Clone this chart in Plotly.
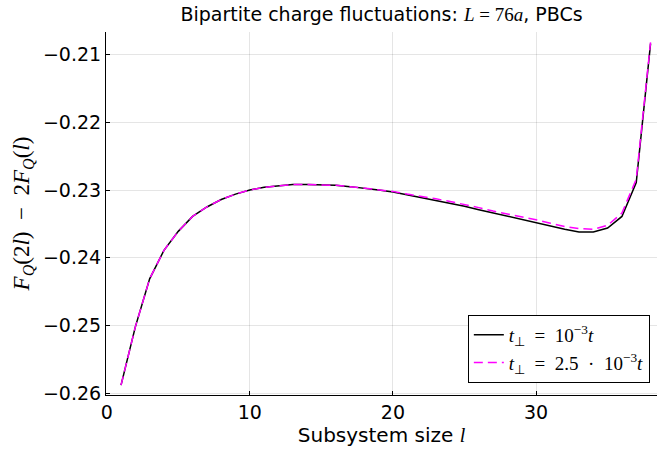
import plotly.graph_objects as go

l_vals = list(range(1, 39))
fq_t1 = [-0.2588, -0.2502, -0.2431, -0.2389, -0.2361, -0.2339, -0.2325, -0.2314,
         -0.2306, -0.2300, -0.2296, -0.2294, -0.2292, -0.2292, -0.2292, -0.2293,
         -0.2295, -0.2297, -0.2300, -0.2303, -0.2307, -0.2311, -0.2315, -0.2320,
         -0.2324, -0.2329, -0.2334, -0.2339, -0.2344, -0.2348, -0.2353, -0.2358,
         -0.2362, -0.2362, -0.2356, -0.2339, -0.2289, -0.2084]
fq_t25 = [-0.2588, -0.2502, -0.2431, -0.2389, -0.2361, -0.2339, -0.2325, -0.2314,
          -0.2306, -0.2300, -0.2296, -0.2294, -0.2292, -0.2292, -0.2292, -0.2293,
          -0.2295, -0.2297, -0.2300, -0.2302, -0.2306, -0.2309, -0.2313, -0.2317,
          -0.2321, -0.2326, -0.2331, -0.2335, -0.2340, -0.2344, -0.2349, -0.2354,
          -0.2357, -0.2358, -0.2352, -0.2334, -0.2284, -0.2082]
x_ticks = [0, 10, 20, 30]
y_ticks = [-0.26, -0.25, -0.24, -0.23, -0.22, -0.21]
y_ticklabels = ["\u22120.26", "\u22120.25", "\u22120.24", "\u22120.23", "\u22120.22", "\u22120.21"]

SERIF = "Liberation Serif"
def m(s):
    return f'<span style="font-family:{SERIF}">{s}</span>'

SP = "\u2002"  # en space for math-like spacing
fig = go.Figure()
fig.add_trace(go.Scatter(
    x=l_vals, y=fq_t1, mode="lines",
    line=dict(color="black", width=1.5),
    name=m(f"<i>t</i><sub>\u22a5</sub>{SP}={SP}10<sup>\u22123</sup><i>t</i>"),
))
fig.add_trace(go.Scatter(
    x=l_vals, y=fq_t25, mode="lines",
    line=dict(color="#ff00ff", width=1.5, dash="9px,5px"),
    name=m(f"<i>t</i><sub>\u22a5</sub>{SP}={SP}2.5{SP}\u00b7{SP}10<sup>\u22123</sup><i>t</i>"),
))

fig.update_layout(
    width=661, height=453,
    margin=dict(l=106, r=4, t=32, b=58),
    paper_bgcolor="white", plot_bgcolor="white",
    font=dict(family="DejaVu Sans", size=19, color="black"),
    title=dict(
        text="Bipartite charge fluctuations: " + m("<i>L</i> = 76<i>a</i>") + ", PBCs",
        x=(106 + 657) / 2 / 661, xanchor="center", y=1 - 14 / 453, yanchor="middle",
        font=dict(size=19),
    ),
    showlegend=True,
    legend=dict(
        x=0.987, y=0.033, xanchor="right", yanchor="bottom",
        bordercolor="black", borderwidth=1, bgcolor="white",
        font=dict(size=19, family=SERIF),
        tracegroupgap=0, itemwidth=30,
    ),
    xaxis=dict(
        range=[-0.05, 38.45],
        tickvals=x_ticks, ticktext=[str(v) for v in x_ticks],
        tickfont=dict(size=19),
        showgrid=True, gridcolor="rgba(0,0,0,0.1)", gridwidth=1,
        zeroline=False,
        showline=True, linecolor="black", linewidth=1,
        ticks="inside", ticklen=4, tickcolor="black",
        title=dict(text="Subsystem size " + m("<i>l</i>"), font=dict(size=20), standoff=3),
        automargin=False,
    ),
    yaxis=dict(
        range=[-0.26025, -0.20668],
        tickvals=y_ticks, ticktext=y_ticklabels,
        tickfont=dict(size=19),
        showgrid=True, gridcolor="rgba(0,0,0,0.1)", gridwidth=1,
        zeroline=False,
        showline=True, linecolor="black", linewidth=1,
        ticks="inside", ticklen=4, tickcolor="black",
        title=dict(
            text=m("<i>F</i><sub><i>Q</i></sub>(2<i>l</i>)  \u2212  2<i>F</i><sub><i>Q</i></sub>(<i>l</i>)"),
            font=dict(size=23), standoff=6,
        ),
        automargin=False,
    ),
)

fig.write_html("out.html")
